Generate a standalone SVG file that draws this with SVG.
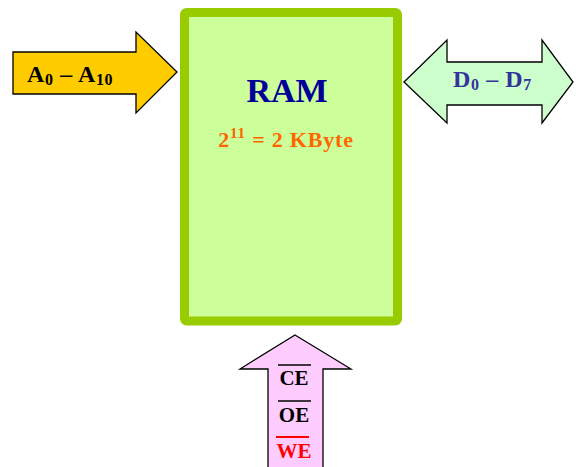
<svg xmlns="http://www.w3.org/2000/svg" width="576" height="467" viewBox="0 0 576 467">
<style>
.t{font-family:"Liberation Serif","Times New Roman",serif;font-weight:bold}
.arr{stroke:#000;stroke-width:1.3;stroke-linejoin:miter}
</style>
<rect width="576" height="467" fill="#fff"/>
<g id="ram">
<rect x="184.5" y="12.5" width="213" height="308.5" rx="2" fill="#CCFF99" stroke="#99CC00" stroke-width="9"/>
<text class="t" x="287" y="102" font-size="34" fill="#000099" text-anchor="middle">RAM</text>
<text class="t" x="286" y="147" font-size="22" fill="#FF6600" text-anchor="middle" letter-spacing="0.8">2<tspan font-size="15" dy="-9">11</tspan><tspan dy="9"> = 2 KByte</tspan></text>
</g>
<g id="connectors">
<g id="addr">
<polygon class="arr" points="13,52 136,52 136,32 177,72 136,113 136,94 13,94" fill="#FFCC00"/>
<text class="t" x="27" y="82" font-size="24" fill="#000" letter-spacing="0.6">A<tspan font-size="16" dy="3">0</tspan><tspan dy="-3"> – A</tspan><tspan font-size="16" dy="3">10</tspan></text>
</g>
<g id="data">
<polygon class="arr" points="404,82 447,40 447,62 542,62 542,40 573,82 542,123 542,105 447,105 447,123" fill="#CCFFCC"/>
<text class="t" x="453" y="87" font-size="24" fill="#333399" letter-spacing="0.6">D<tspan font-size="16" dy="3">0</tspan><tspan dy="-3"> – D</tspan><tspan font-size="16" dy="3">7</tspan></text>
</g>
<g id="ctrl">
<polygon class="arr" points="295,335 351,369 323,369 323,468 268,468 268,369 240,369" fill="#FFCCFF"/>
<text class="t" x="294" y="385" font-size="21" fill="#000" text-anchor="middle">CE</text>
<line x1="278" y1="365" x2="311" y2="365" stroke="#000" stroke-width="1.5"/>
<text class="t" x="294" y="422" font-size="21" fill="#000" text-anchor="middle">OE</text>
<line x1="278" y1="401" x2="311" y2="401" stroke="#000" stroke-width="1.5"/>
<text class="t" x="294" y="458" font-size="21" fill="#FF0000" text-anchor="middle">WE</text>
<line x1="276" y1="437" x2="309" y2="437" stroke="#FF0000" stroke-width="2"/>
</g>
</g>
</svg>
